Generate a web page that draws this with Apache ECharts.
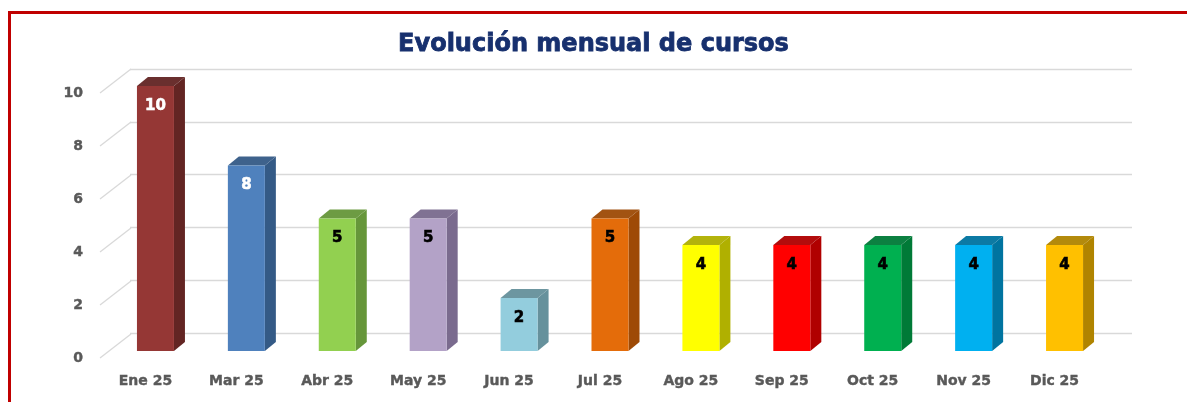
<!DOCTYPE html>
<html>
<head>
    <meta charset="utf-8">
    <title>Evolución mensual de cursos</title>
    <script src="https://cdn.jsdelivr.net/npm/echarts/dist/echarts.min.js"></script>
	<style>
	html, body { margin: 0; padding: 0; background: #fff; }
	#main { width: 1187px; height: 402px; }
	</style>
</head>
<body>
    <div id="main"></div>
    <script type="text/javascript">
        // datos
        var categories = ['Ene 25', 'Mar 25', 'Abr 25', 'May 25', 'Jun 25', 'Jul 25', 'Ago 25', 'Sep 25', 'Oct 25', 'Nov 25', 'Dic 25'];
        var barValues = [10, 7, 5, 5, 2, 5, 4, 4, 4, 4, 4];     // altura de cada barra
        var labelValues = [10, 8, 5, 5, 2, 5, 4, 4, 4, 4, 4];   // etiqueta escrita en cada barra
        var yTicks = [0, 2, 4, 6, 8, 10];

        // colores (frente, lateral)
        var barColors = [
            ['#953735', '#632523'], ['#4F81BD', '#345A86'], ['#92D050', '#66963A'],
            ['#B3A2C7', '#7A6B8E'], ['#93CDDD', '#66919C'], ['#E46C0A', '#9E4A06'],
            ['#FFFF00', '#B0B000'], ['#FF0000', '#B00000'], ['#00B050', '#007A37'],
            ['#00B0F0', '#0074A0'], ['#FFC000', '#B08400']
        ];

        var myChart = echarts.init(document.getElementById('main'));

        var dx = 11, dy = -9, barW = 37;
        var font = '"DejaVu Sans", sans-serif';

        function renderBar(params, api) {
            var i = params.dataIndex;
            var top = api.coord([api.value(0), api.value(1)]);
            var base = api.coord([api.value(0), 0]);
            var cx = top[0] + 10;
            var l = cx - barW / 2, r = cx + barW / 2, t = top[1], b = base[1];
            var c = barColors[i];
            var txtColor = i < 2 ? '#ffffff' : '#000000';
            return {
                type: 'group',
                children: [
                    { type: 'polygon', shape: { points: [[r, t], [r + dx, t + dy], [r + dx, b + dy], [r, b]] }, style: { fill: c[1] } },
                    { type: 'polygon', shape: { points: [[l, t], [l + dx, t + dy], [r + dx, t + dy], [r, t]] }, style: { fill: echarts.color.lift(c[1], 0.05) } },
                    { type: 'rect', shape: { x: l, y: t, width: barW, height: b - t }, style: { fill: c[0] } },
                    { type: 'text', x: cx, y: t + 20, style: {
                        text: String(labelValues[i]), fill: txtColor, stroke: txtColor, lineWidth: 0.6,
                        font: 'bold 15px ' + font, align: 'center', verticalAlign: 'middle'
                    } }
                ]
            };
        }

        function renderDiag(params, api) {
            var p = api.coord([0, api.value(1)]);
            return {
                type: 'line',
                shape: { x1: p[0], y1: p[1], x2: p[0] + 31, y2: p[1] - 24 },
                style: { stroke: '#D9D9D9', lineWidth: 1.3 }
            };
        }

        var axisText = {
            color: '#595959', fontSize: 14, fontWeight: 'bold', fontFamily: font,
            textBorderColor: '#595959', textBorderWidth: 0.4
        };

        var option = {
            backgroundColor: '#ffffff',
            animation: false,
            title: {
                text: 'Evolución mensual de cursos',
                left: 'center',
                top: 28,
                textStyle: {
                    color: '#17306E', fontSize: 24, fontWeight: 'bold', fontFamily: font,
                    textBorderColor: '#17306E', textBorderWidth: 0.8
                }
            },
            graphic: [
                { type: 'rect', shape: { x: 9.5, y: 12.5, width: 1400, height: 600 }, style: { fill: null, stroke: '#C00000', lineWidth: 3 }, z: 100 }
            ],
            grid: [
                // barras (plano frontal)
                { left: 100, right: 87, top: 86, bottom: 51 },
                // pared del fondo
                { left: 130, right: 55, top: 69, bottom: 69 },
                // etiquetas del eje y
                { left: 100, width: 1, top: 93, bottom: 44 }
            ],
            xAxis: [
                {
                    gridIndex: 0, type: 'category', data: categories,
                    axisLine: { show: false }, axisTick: { show: false },
                    axisLabel: Object.assign({ margin: 23 }, axisText)
                },
                { gridIndex: 1, type: 'value', show: false, min: 0, max: 1 },
                { gridIndex: 2, type: 'value', show: false, min: 0, max: 1 }
            ],
            yAxis: [
                { gridIndex: 0, type: 'value', min: 0, max: 10, show: false },
                {
                    gridIndex: 1, type: 'value', min: 0, max: 10, interval: 2,
                    axisLine: { show: false }, axisTick: { show: false }, axisLabel: { show: false },
                    splitLine: { show: true, lineStyle: { color: '#D9D9D9', width: 1.3 } }
                },
                {
                    gridIndex: 2, type: 'value', min: 0, max: 10, interval: 2,
                    axisLine: { show: false }, axisTick: { show: false }, splitLine: { show: false },
                    axisLabel: Object.assign({ margin: 17 }, axisText)
                }
            ],
            series: [
                {
                    type: 'custom', xAxisIndex: 2, yAxisIndex: 2,
                    renderItem: renderDiag,
                    data: yTicks.map(function (v) { return [0, v]; }),
                    z: 1
                },
                {
                    type: 'custom', xAxisIndex: 0, yAxisIndex: 0,
                    renderItem: renderBar,
                    data: categories.map(function (c, i) { return [i, barValues[i]]; }),
                    z: 5
                }
            ]
        };

        myChart.setOption(option);
    </script>
</body>
</html>
